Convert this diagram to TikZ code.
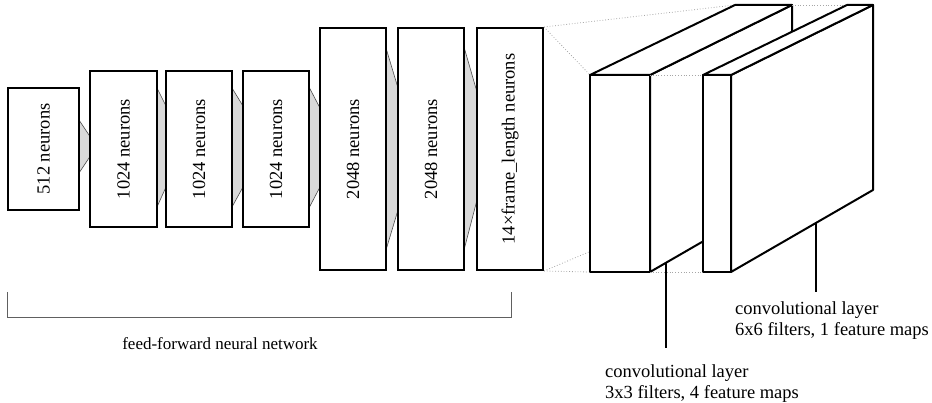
\documentclass[tikz,border=0pt]{standalone}
\usepackage{fontspec}
\setmainfont{Liberation Serif}
\begin{document}
\begin{tikzpicture}[x=1pt,y=-1pt,
  layer/.style={draw, line width=2pt, fill=white, inner sep=0pt},
  lbl/.style={rotate=90, font=\fontsize{18.5}{21}\selectfont},
  funnel/.style={fill=gray!30, draw=gray!60!black, line width=0.6pt},
  guide/.style={draw=gray!70, dotted, line width=0.8pt},
  face/.style={draw, line width=2pt, fill=white, line join=round},
  leader/.style={line width=2pt},
  caption/.style={font=\fontsize{18.5}{21}\selectfont, align=left, inner sep=0pt},
  bracket/.style={draw=gray!75!black, line width=1pt}]
\useasboundingbox (0,0) rectangle (932,403);

% funnels between layers
\filldraw[funnel] (79,120) -- (91,138) -- (91,155) -- (79,173) -- cycle;
\filldraw[funnel] (157,88) -- (166,106) -- (166,187) -- (157,207) -- cycle;
\filldraw[funnel] (232,88) -- (243,106) -- (243,187) -- (232,207) -- cycle;
\filldraw[funnel] (309,87) -- (320,108) -- (320,187) -- (309,208) -- cycle;
\filldraw[funnel] (386,48) -- (398,88) -- (398,210) -- (386,250) -- cycle;
\filldraw[funnel] (464,47) -- (477,92) -- (477,200) -- (464,250) -- cycle;

% feed-forward layers
\node[layer, minimum width=71, minimum height=122] (b1) at (43.5,149) {};
\node[layer, minimum width=67, minimum height=156] (b2) at (123.5,149) {};
\node[layer, minimum width=66, minimum height=156] (b3) at (199,149) {};
\node[layer, minimum width=66, minimum height=156] (b4) at (276,149) {};
\node[layer, minimum width=66, minimum height=242] (b5) at (353,149) {};
\node[layer, minimum width=66, minimum height=242] (b6) at (431,149) {};
\node[layer, minimum width=66, minimum height=242] (b7) at (510,149) {};

\node[lbl] (l1) at (b1) {512 neurons};
\node[lbl] (l2) at (b2) {1024 neurons};
\node[lbl] (l3) at (b3) {1024 neurons};
\node[lbl] (l4) at (b4) {1024 neurons};
\node[lbl] (l5) at (b5) {2048 neurons};
\node[lbl] (l6) at (b6) {2048 neurons};
\node[lbl] (l7) at (b7) {14×frame\_length neurons};

% conv layer corners
\coordinate (aFTL) at (590,75);  \coordinate (aFTR) at (650,75);
\coordinate (aFBL) at (590,272); \coordinate (aFBR) at (650,272);
\coordinate (aBTL) at (735,5);   \coordinate (aBTR) at (792,5);
\coordinate (aBBL) at (735,190); \coordinate (aBBR) at (792,190);
\coordinate (cFTL) at (703,75);  \coordinate (cFTR) at (731,75);
\coordinate (cFBL) at (703,272); \coordinate (cFBR) at (731,272);
\coordinate (cBTL) at (847,5);   \coordinate (cBTR) at (873,5);
\coordinate (cBBR) at (873,190);

% projection guides
\draw[guide] (b7.north east) -- (aBTL);
\draw[guide] (b7.north east) -- (aFTL);
\draw[guide] (b7.south east) -- (aFBL);
\draw[guide] (b7.south east) -- (aBBL);

% first conv layer
\draw[face] (aFTR) -- (aBTR) -- (aBBR) -- (aFBR) -- cycle;
\draw[face] (aFTL) -- (aBTL) -- (aBTR) -- (aFTR) -- cycle;
\draw[face] (aFTL) rectangle (aFBR);

\draw[guide] (aFTR) -- (cFTL);
\draw[guide] (aFBR) -- (cFBL);
\draw[guide] (aBTR) -- (cBTL);

% second conv layer
\draw[face] (cFTR) -- (cBTR) -- (cBBR) -- (cFBR) -- cycle;
\draw[face] (cFTL) -- (cBTL) -- (cBTR) -- (cFTR) -- cycle;
\draw[face] (cFTL) rectangle (cFBR);

% bracket and captions
\draw[bracket] (7,292) -- (7,318) -- (511,318) -- (511,292);
\node[caption, anchor=base, font=\fontsize{17}{21}\selectfont] (ffcap) at (220,350) {feed-forward neural network};

\node[caption, anchor=north west] (cap1) at (605,364) {convolutional layer\\3x3 filters, 4 feature maps};
\node[caption, anchor=north west] (cap2) at (735,301) {convolutional layer\\6x6 filters, 1 feature maps};

\coordinate (a1) at (666,262);
\coordinate (a1e) at (666,348);
\coordinate (a2) at (816,222);
\coordinate (a2e) at (816,292);
\draw[leader] (a1) -- (a1e);
\draw[leader] (a2) -- (a2e);
\end{tikzpicture}
\end{document}
